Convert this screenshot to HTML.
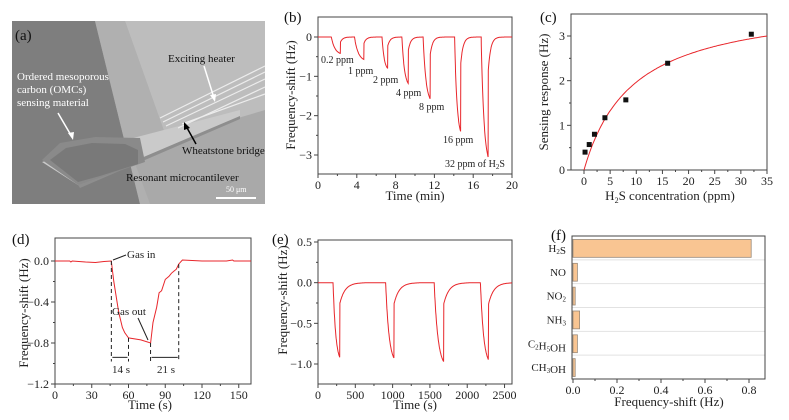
<!DOCTYPE html>
<html><head><meta charset="utf-8"><style>
body{margin:0;background:#fff}
svg{display:block;font-family:"Liberation Serif",serif}
</style></head><body>
<svg id="fig" width="789" height="420" viewBox="0 0 789 420" xmlns="http://www.w3.org/2000/svg">
<g>
<rect x="12" y="21" width="253" height="183" fill="#a4a4a4"/>
<polygon points="12,21 95,21 140,204 12,204" fill="#7e7e7e"/>
<polygon points="95,21 125,21 190,204 140,204" fill="#b0b0b0"/>
<polygon points="125,21 265,21 265,204 190,204" fill="#bdbdbd"/>
<polygon points="130,150 265,110 265,204 150,204" fill="#a9a9a9"/>
<polygon points="42,162 240,110 240,116 78,185" fill="#cacaca"/>
<polygon points="78,185 240,116 240,119 80,188" fill="#8e8e8e"/>
<polygon points="42,160 60,143 95,137 140,138 145,162 78,185" fill="#8a8a8a"/>
<polygon points="50,160 66,148 92,143 125,144 138,150 138,164 100,176 78,182" fill="#727272" opacity="0.7"/>
<g stroke="#ececec" stroke-width="1.2" fill="none">
<line x1="160" y1="118" x2="265" y2="66"/><line x1="163" y1="122" x2="265" y2="72"/>
<line x1="166" y1="126" x2="265" y2="79"/><line x1="178" y1="128" x2="265" y2="87"/>
<line x1="182" y1="124" x2="265" y2="94"/>
</g>
<text x="15" y="40" font-size="15" fill="#111">(a)</text>
<text x="168" y="62" font-size="11" fill="#111">Exciting heater</text>
<text x="17" y="80" font-size="11" fill="#fff">Ordered mesoporous</text>
<text x="17" y="93" font-size="11" fill="#fff">carbon (OMCs)</text>
<text x="17" y="106" font-size="11" fill="#fff">sensing material</text>
<text x="182" y="154" font-size="11" fill="#111">Wheatstone bridge</text>
<text x="126" y="181" font-size="11" fill="#111">Resonant microcantilever</text>
<text x="226" y="192" font-size="8" fill="#fff">50 μm</text>
<line x1="216" y1="198" x2="256" y2="198" stroke="#fff" stroke-width="2"/>
<line x1="58" y1="113" x2="72" y2="137" stroke="#fff" stroke-width="1.5"/>
<polygon points="73,140 68,133 74,132" fill="#fff"/>
<line x1="204" y1="66" x2="214" y2="98" stroke="#fff" stroke-width="1.5"/>
<polygon points="215,102 210,95 216,94" fill="#fff"/>
<line x1="196" y1="144" x2="186" y2="126" stroke="#000" stroke-width="1.5"/>
<polygon points="184,122 190,128 184,130" fill="#000"/>
</g>
</svg>
<script>
// ---------- Panel (b) data ----------
const bPulseStart = [1.37, 3.76, 6.6, 8.65, 10.84, 14.08, 16.82];
const bPulseEnd = [2.32, 4.72, 7.18, 9.3, 11.56, 14.7, 17.54];
const bPulseDepth = [-0.42, -0.57, -0.8, -1.18, -1.57, -2.4, -3.05];
const bLabels = ["0.2 ppm", "1 ppm", "2 ppm", "4 ppm", "8 ppm", "16 ppm", "32 ppm of H"];
const bXTicks = [0, 4, 8, 12, 16, 20];
const bYTicks = [0, -1, -2, -3];
// ---------- Panel (c) data ----------
const cConc = [0.2, 1, 2, 4, 8, 16, 32];
const cResp = [0.4, 0.57, 0.8, 1.17, 1.57, 2.39, 3.04];
const cFitA = [3.8];
const cFitB = [9.33];
const cXTicks = [0, 5, 10, 15, 20, 25, 30, 35];
const cYTicks = [0, 1, 2, 3];
// ---------- Panel (d) data ----------
const dTime = [0, 12, 13, 14, 25, 33, 40, 46, 48, 52, 55, 57, 60, 70, 78, 80, 83, 85, 87, 90, 93, 95, 97, 99, 101, 104, 120, 140, 145, 146, 160];
const dShift = [0, 0, -0.01, 0, -0.01, -0.015, -0.005, 0, -0.2, -0.5, -0.65, -0.7, -0.75, -0.77, -0.8, -0.6, -0.45, -0.31, -0.29, -0.18, -0.15, -0.12, -0.1, -0.08, -0.03, 0.01, 0, 0, 0.01, 0, 0];
const dXTicks = [0, 30, 60, 90, 120, 150];
const dYTicks = [0.0, -0.4, -0.8, -1.2];
const dMarks = [46, 60, 78, 101];
// ---------- Panel (e) data ----------
const ePulseStart = [202, 907, 1557, 2177];
const ePulseEnd = [292, 1019, 1683, 2285];
const ePulseDepth = [-0.92, -0.93, -0.97, -0.95];
const eXTicks = [0, 500, 1000, 1500, 2000, 2500];
const eYTicks = [0.5, 0.0, -0.5, -1.0];
// ---------- Panel (f) data ----------
const fGases = ["H2S", "NO", "NO2", "NH3", "C2H5OH", "CH3OH"];
const fShift = [0.81, 0.02, 0.01, 0.03, 0.02, 0.01];
const fXTicks = [0.0, 0.2, 0.4, 0.6, 0.8];

const NS = "http://www.w3.org/2000/svg";
const svg = document.getElementById("fig");
function mk(tag, attrs, parent) {
  const e = document.createElementNS(NS, tag);
  for (const k in attrs) e.setAttribute(k, attrs[k]);
  (parent || svg).appendChild(e);
  return e;
}
function lin(d0, d1, r0, r1) { return v => r0 + (v - d0) / (d1 - d0) * (r1 - r0); }
function fmt(v, dec) { return dec ? v.toFixed(dec).replace("-", "−").replace("−0.0","0.0") : String(v).replace("-", "−"); }

function frame(g, L, T, R, B, name) {
  const r = mk("rect", {x: L, y: T, width: R - L, height: B - T, fill: "none", stroke: "#444", "stroke-width": 1}, g);
  
  
}
function xTicks(g, ticks, sx, B, dec, name) {
  ticks.forEach((t, i) => {
    const l = mk("line", {x1: sx(t), x2: sx(t), y1: B, y2: B + 4, stroke: "#444"}, g);
    
    
    if (i < ticks.length - 1) {
      const m = (t + ticks[i + 1]) / 2;
      const ml = mk("line", {x1: sx(m), x2: sx(m), y1: B, y2: B + 2, stroke: "#444"}, g);
      
      
    }
    const tx = mk("text", {x: sx(t), y: B + 15, "font-size": 12, "text-anchor": "middle", fill: "#222"}, g);
    tx.textContent = dec ? t.toFixed(dec) : String(t);
    
    
  });
}
function yTicks(g, ticks, sy, L, dec, name) {
  ticks.forEach((t, i) => {
    const l = mk("line", {x1: L - 4, x2: L, y1: sy(t), y2: sy(t), stroke: "#444"}, g);
    
    
    if (i < ticks.length - 1) {
      const m = (t + ticks[i + 1]) / 2;
      const ml = mk("line", {x1: L - 2, x2: L, y1: sy(m), y2: sy(m), stroke: "#444"}, g);
      
      
    }
    const tx = mk("text", {x: L - 6, y: sy(t) + 4, "font-size": 12, "text-anchor": "end", fill: "#222"}, g);
    tx.textContent = fmt(t, dec);
    
    
  });
}
function title(g, txt, x, y, rot, name) {
  const t = mk("text", {x: x, y: y, "font-size": 13, "text-anchor": "middle", fill: "#222"}, g);
  if (rot) t.setAttribute("transform", "rotate(-90 " + x + " " + y + ")");
  t.textContent = txt;
  
  
  return t;
}
function label(g, txt, x, y, name) {
  const t = mk("text", {x: x, y: y, "font-size": 15, fill: "#111"}, g);
  t.textContent = txt;
  
  
}
function pulseTrace(t, starts, ends, depths, jump, tau) {
  let v = 0;
  for (let i = 0; i < starts.length; i++) {
    const s = starts[i], e = ends[i], d = depths[i];
    if (t >= s && t <= e) { const f = (t - s) / (e - s); v = d * (1 - Math.exp(-2.5 * f)) / (1 - Math.exp(-2.5)); }
    else if (t > e) { const nxt = i + 1 < starts.length ? starts[i + 1] : Infinity; if (t < nxt) v = d * jump * Math.exp(-(t - e) / tau); }
  }
  return v;
}

// ---------- Panel (b) ----------
{
  const g = mk("g", {});
  
  
  const L = 318, R = 512, T = 17, B = 174;
  const sx = lin(0, 20, L, R), sy = lin(0, -3, 37, 155);
  frame(g, L, T, R, B, 'panel-b');
  xTicks(g, bXTicks, sx, B, 0, 'panel-b');
  yTicks(g, bYTicks, sy, L, 0, 'panel-b');
  let d = "";
  for (let t = 0; t <= 20; t += 0.02) {
    let v = pulseTrace(t, bPulseStart, bPulseEnd, bPulseDepth, 0.3, 0.25);
    d += (d ? "L" : "M") + sx(t).toFixed(1) + "," + sy(v).toFixed(1);
  }
  const p = mk("path", {d: d, fill: "none", stroke: "#e8262b", "stroke-width": 1}, g);
  
  
  const lx = [321, 348, 373, 396, 419, 443, 445], ly = [63, 74, 83, 96, 110, 143, 167];
  bLabels.forEach((s, i) => {
    const t = mk("text", {x: lx[i], y: ly[i], "font-size": 10, fill: "#222"}, g);
    t.textContent = s;
    if (i === 6) { const sub = mk("tspan", {"font-size": 7, dy: 2}, t); sub.textContent = "2"; const s2 = mk("tspan", {dy: -2}, t); s2.textContent = "S"; }
    
    
  });
  title(g, "Frequency-shift (Hz)", 295, 95, true, 'panel-b-y-axis-title');
  title(g, "Time (min)", 415, 200, false, 'panel-b-x-axis-title');
  label(g, "(b)", 284, 22, 'panel-b-label');
}
// ---------- Panel (c) ----------
{
  const g = mk("g", {});
  
  
  const L = 571, R = 767, T = 14, B = 170;
  const sx = lin(0, 35, 584, 767), sy = lin(0, 3, 170, 36);
  frame(g, L, T, R, B, 'panel-c');
  xTicks(g, cXTicks, sx, B, 0, 'panel-c');
  yTicks(g, cYTicks, sy, L, 0, 'panel-c');
  let d = "";
  for (let x = 0; x <= 35; x += 0.25) {
    const v = cFitA[0] * x / (cFitB[0] + x);
    d += (d ? "L" : "M") + sx(x).toFixed(1) + "," + sy(v).toFixed(1);
  }
  const p = mk("path", {d: d, fill: "none", stroke: "#e8262b", "stroke-width": 1}, g);
  
  
  cConc.forEach((c, i) => {
    const r = mk("rect", {x: sx(c) - 2.5, y: sy(cResp[i]) - 2.5, width: 5, height: 5, fill: "#111"}, g);
    
    
  });
  title(g, "Sensing response (Hz)", 548, 92, true, 'panel-c-y-axis-title');
  const xt = title(g, "", 670, 200, false, 'panel-c-x-axis-title');
  xt.textContent = "H";
  const s1 = mk("tspan", {"font-size": 8, dy: 3}, xt); s1.textContent = "2";
  const s2 = mk("tspan", {dy: -3}, xt); s2.textContent = "S concentration (ppm)";
  label(g, "(c)", 540, 22, 'panel-c-label');
}
// ---------- Panel (d) ----------
{
  const g = mk("g", {});
  
  
  const L = 55, R = 251, T = 238, B = 384;
  const sx = lin(0, 160, L, R), sy = lin(0, -1.2, 261, 384);
  frame(g, L, T, R, B, 'panel-d');
  xTicks(g, dXTicks, sx, B, 0, 'panel-d');
  yTicks(g, dYTicks, sy, L, 1, 'panel-d');
  let d = "";
  dTime.forEach((t, i) => { d += (i ? "L" : "M") + sx(t).toFixed(1) + "," + sy(dShift[i]).toFixed(1); });
  const p = mk("path", {d: d, fill: "none", stroke: "#e8262b", "stroke-width": 1}, g);
  
  
  const yEnd = sy(-0.98);
  dMarks.forEach(m => {
    let yv = 0;
    for (let i = 1; i < dTime.length; i++) if (dTime[i] >= m) { const f = (m - dTime[i - 1]) / (dTime[i] - dTime[i - 1]); yv = dShift[i - 1] + f * (dShift[i] - dShift[i - 1]); break; }
    const l = mk("line", {x1: sx(m), x2: sx(m), y1: sy(yv), y2: yEnd, stroke: "#222", "stroke-dasharray": "4,3"}, g);
    
    
  });
  const ay = sy(-0.94);
  [[0, 1], [2, 3]].forEach(pr => {
    const a = mk("line", {x1: sx(dMarks[pr[0]]) + 1, x2: sx(dMarks[pr[1]]) - 1, y1: ay, y2: ay, stroke: "#222"}, g);
    
    
  });
  const txts = [["Gas in", 127, 258], ["Gas out", 112, 315], ["14 s", 112, 373], ["21 s", 157, 373]];
  txts.forEach(tt => {
    const t = mk("text", {x: tt[1], y: tt[2], "font-size": 11, fill: "#222"}, g);
    t.textContent = tt[0];
    
    
  });
  const a1 = mk("line", {x1: 126, y1: 255, x2: 113, y2: 260, stroke: "#222"}, g);
  
  
  const a2 = mk("line", {x1: 138, y1: 318, x2: 148, y2: 340, stroke: "#222"}, g);
  
  
  title(g, "Frequency-shift (Hz)", 28, 313, true, 'panel-d-y-axis-title');
  title(g, "Time (s)", 150, 409, false, 'panel-d-x-axis-title');
  label(g, "(d)", 12, 244, 'panel-d-label');
}
// ---------- Panel (e) ----------
{
  const g = mk("g", {});
  
  
  const L = 318, R = 512, T = 240, B = 384;
  const sx = lin(0, 2600, L, R), sy = lin(0.5, -1.0, 242, 364);
  frame(g, L, T, R, B, 'panel-e');
  xTicks(g, eXTicks, sx, B, 0, 'panel-e');
  yTicks(g, eYTicks, sy, L, 1, 'panel-e');
  let d = "";
  for (let t = 0; t <= 2600; t += 3) {
    const v = pulseTrace(t, ePulseStart, ePulseEnd, ePulseDepth, 0.28, 70);
    d += (d ? "L" : "M") + sx(t).toFixed(1) + "," + sy(v).toFixed(1);
  }
  const p = mk("path", {d: d, fill: "none", stroke: "#e8262b", "stroke-width": 1}, g);
  
  
  title(g, "Frequency-shift (Hz)", 287, 300, true, 'panel-e-y-axis-title');
  title(g, "Time (s)", 415, 409, false, 'panel-e-x-axis-title');
  label(g, "(e)", 272, 244, 'panel-e-label');
}
// ---------- Panel (f) ----------
{
  const g = mk("g", {});
  
  
  const L = 572, R = 765, T = 236, B = 379;
  const sx = lin(0, 0.8, 573, 749);
  const band = (B - T) / fGases.length;
  for (let i = 1; i < fGases.length; i++) {
    const l = mk("line", {x1: L, x2: R, y1: T + i * band, y2: T + i * band, stroke: "#e2e2e2"}, g);
    
    
  }
  frame(g, L, T, R, B, 'panel-f');
  xTicks(g, fXTicks, sx, B, 1, 'panel-f');
  fGases.forEach((gname, i) => {
    const y0 = T + i * band;
    const r = mk("rect", {x: sx(0), y: y0 + 3.5, width: Math.max(1, sx(fShift[i]) - sx(0)), height: band - 6, fill: "#f9c592", stroke: "#9a8a7a", "stroke-width": 0.8}, g);
    
    
    const t = mk("text", {x: 566, y: y0 + band / 2 + 4, "font-size": 11, "text-anchor": "end", fill: "#222"}, g);
    const parts = gname.split(/(\d)/).filter(s => s);
    parts.forEach(ps => {
      if (/\d/.test(ps)) { const s = mk("tspan", {"font-size": 7, dy: 2}, t); s.textContent = ps; const z = mk("tspan", {dy: -2}, t); z.textContent = ""; }
      else { const s = mk("tspan", {}, t); s.textContent = ps; }
    });
    
    
  });
  title(g, "Frequency-shift (Hz)", 669, 406, false, 'panel-f-x-axis-title');
  label(g, "(f)", 551, 240, 'panel-f-label');
}
</script>
</body></html>
